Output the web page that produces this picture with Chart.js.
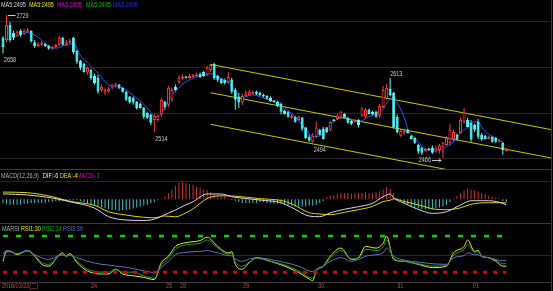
<!DOCTYPE html>
<html>
<head>
<meta charset="utf-8">
<script src="https://cdn.jsdelivr.net/npm/chart.js@4.4.1/dist/chart.umd.min.js"></script>
<style>
html, body { margin: 0; padding: 0; background: #000; }
#wrap { position: relative; width: 553px; height: 291px; background: #000; overflow: hidden; }
canvas { position: absolute; left: 0; }
</style>
</head>
<body>
<div id="wrap">
  <canvas id="main" width="553" height="170" style="top:0"></canvas>
  <canvas id="macd" width="553" height="53" style="top:170px"></canvas>
  <canvas id="rsi" width="553" height="68" style="top:223px"></canvas>
</div>
<script>
// 15-minute bars, 2016/03/22 .. 04/01
const open = [2687,2683,2711,2696,2690,2700,2694,2698,2700,2679,2672,2674,2676,2672,2667,2670,2674,2687,2674,2678,
  2687,2663,2645,2639,2623,2628,2617,2613,2591,2586,2588,2595,2599,2601,2595,2588,2579,2577,2569,2566,
  2558,2549,2546,2536,2536,2546,2569,2564,2573,2597,2606,2612,2615,2613,2615,2617,2621,2624,2619,2628,
  2639,2617,2612,2610,2606,2610,2591,2579,2568,2580,2582,2584,2588,2586,2582,2580,2577,2571,2569,2566,
  2553,2551,2540,2542,2536,2540,2522,2505,2496,2505,2518,2520,2522,2518,2536,2538,2542,2547,2540,2534,
  2533,2536,2544,2542,2555,2551,2551,2544,2560,2575,2593,2586,2542,2507,2511,2518,2507,2503,2490,2485,
  2479,2483,2485,2478,2481,2487,2490,2494,2500,2509,2512,2533,2536,2531,2527,2533,2509,2507,2501,2505,
  2503,2496,2494,2479];
const high = [2690,2729,2716,2700,2701,2703,2703,2705,2701,2683,2679,2681,2678,2674,2672,2676,2690,2689,2683,2685,
  2689,2665,2646,2641,2634,2630,2621,2619,2601,2595,2597,2602,2604,2602,2597,2590,2580,2579,2571,2568,
  2560,2551,2547,2547,2546,2577,2571,2599,2595,2601,2617,2619,2617,2621,2621,2623,2623,2626,2635,2639,
  2641,2619,2613,2612,2624,2613,2595,2586,2584,2590,2591,2590,2590,2588,2584,2582,2579,2573,2571,2568,
  2555,2553,2547,2544,2544,2542,2523,2509,2512,2533,2520,2523,2523,2534,2538,2547,2553,2549,2542,2536,
  2538,2538,2560,2558,2557,2553,2553,2566,2599,2602,2613,2588,2546,2520,2518,2520,2509,2505,2492,2487,
  2485,2485,2489,2489,2492,2496,2505,2529,2518,2511,2540,2558,2540,2536,2529,2538,2512,2509,2507,2507,
  2505,2500,2496,2485];
const low = [2658,2679,2679,2683,2689,2689,2692,2696,2678,2668,2670,2672,2670,2665,2665,2668,2672,2672,2672,2676,
  2657,2639,2628,2623,2619,2610,2601,2584,2588,2582,2586,2593,2597,2593,2586,2571,2566,2564,2555,2557,
  2538,2538,2527,2514,2533,2542,2555,2560,2569,2588,2602,2610,2612,2612,2613,2615,2613,2615,2617,2624,
  2610,2606,2602,2601,2602,2584,2555,2558,2564,2579,2580,2582,2582,2580,2577,2573,2569,2568,2560,2546,
  2546,2540,2538,2531,2534,2516,2501,2496,2494,2503,2507,2500,2512,2516,2533,2536,2540,2538,2529,2527,
  2531,2522,2542,2540,2546,2544,2540,2540,2558,2573,2579,2520,2511,2505,2509,2511,2500,2492,2474,2472,
  2478,2479,2474,2476,2474,2466,2489,2489,2496,2498,2511,2529,2522,2496,2514,2501,2498,2500,2500,2494,
  2494,2494,2472,2478];
const close = [2670,2711,2683,2687,2698,2692,2700,2701,2681,2672,2676,2678,2672,2667,2670,2674,2687,2674,2679,2681,
  2661,2643,2632,2624,2632,2613,2604,2588,2597,2591,2593,2601,2601,2595,2588,2573,2568,2568,2558,2558,
  2542,2540,2531,2544,2544,2573,2560,2595,2591,2591,2613,2615,2613,2617,2619,2619,2615,2617,2632,2637,
  2613,2610,2604,2604,2615,2588,2573,2568,2580,2586,2588,2586,2584,2582,2579,2575,2571,2569,2562,2551,
  2547,2542,2544,2533,2542,2520,2503,2498,2507,2522,2509,2501,2514,2533,2534,2544,2551,2540,2531,2529,
  2536,2527,2557,2555,2547,2546,2542,2562,2591,2595,2582,2523,2514,2516,2516,2512,2501,2494,2478,2476,
  2483,2481,2476,2485,2489,2494,2503,2518,2514,2500,2536,2551,2523,2500,2518,2505,2500,2501,2505,2496,
  2496,2498,2481,2483];

// moving average, read at these bars
const maIdx = [5,8,10,13,15,18,20,22,24,27,30,32,34,37,40,42,43,45,47,50,53,56,59,61,64,66,68,69,71,73,
  77,79,82,84,86,88,89,91,92,94,96,98,99,101,104,106,108,109,111,112,114,115,117,119,121,124,126,128,130,132,
  133,135,136,138,140,142];
const maVal = [2698,2695,2688,2671,2668,2674,2676,2655,2641,2622,2600,2597,2595,2581,2565,2550,2541,2548,2572,2596,
  2610,2617,2621,2615,2605,2588,2577,2579,2582,2579,2569,2563,2548,2535,2519,2506,2505,2512,2521,2533,
  2540,2540,2537,2533,2542,2549,2555,2567,2577,2568,2541,2520,2503,2488,2481,2481,2487,2496,2512,2523,
  2532,2533,2523,2510,2503,2495];

// trend channel (bar index, price)
const channelUpper = [[59, 2638], [156, 2518]];
const channelMiddle = [[59, 2586], [156, 2466]];
const channelLower = [[59, 2528], [156, 2408]];

// marked highs / lows
const markIdx = [1, 0, 43, 110, 88, 125];
const markKind = ['high', 'low', 'low', 'high', 'low', 'low'];
const markPlace = ['right', 'below', 'below', 'above', 'below', 'left'];

// MACD
const macdIdx = [0,7,14,19,26,30,35,40,43,46,49,52,54,58,62,65,73,79,82,87,90,93,97,101,105,108,110,111,114,119,
  122,126,130,133,138,141,143];
const dif = [6,4.8,1.4,-2.7,-9.7,-19.3,-23,-23.5,-22,-17,-11.9,-6,-2.7,5.9,5.9,2.9,-0.8,-3.8,-9,-18.6,
  -19.3,-15,-11.1,-8.2,-4.4,2.9,5.9,1.5,-4.4,-12.7,-15.6,-13.8,-6.3,-1.6,-1.6,-3.3,-6];
const dea = [8,7.3,2.9,-2.2,-6.7,-13.8,-17.5,-20,-20.5,-18.5,-19.4,-15,-10.7,0.9,3.9,3.7,0.7,-1.3,-5,-14.9,
  -16.3,-17,-14.5,-11.5,-7.9,-2.5,-1.1,0.5,-2.4,-7.2,-10.6,-11.5,-9.5,-5.5,-3.8,-3.8,-4];
const macdBar = [-4,-5,-6,-6,-6,-6,-5,-5,-4,-4,-4,-4,-4,-3,-3,-2,-2,-2,-2,-1,
  -1,-1,-2,-3,-5,-6,-7,-8,-9,-10,-11,-12,-12,-13,-12,-12,-11,-10,-9,-8,
  -7,-6,-4,-3,-1,1,3,7,11,15,18,19,18,17,16,14,13,11,10,8,
  6,5,4,3,1,-1,-2,-3,-4,-4,-4,-4,-4,-3,-3,-4,-4,-5,-5,-5,
  -6,-7,-7,-8,-8,-8,-8,-7,-7,-6,-4,-2,2,4,5,6,7,7,7,6,
  7,7,7,8,7,7,8,9,11,14,12,7,2,-2,-4,-6,-8,-9,-10,-11,
  -11,-11,-11,-10,-9,-8,-6,-3,1,4,7,10,12,11,10,9,7,6,4,3,
  2,1,-2,-3];

// RSI
const rsiIdx = [0,1,2,4,7,9,11,13,16,17,18,19,21,24,28,30,32,34,37,40,43,45,47,49,52,56,58,61,64,65,
  66,68,70,72,76,80,84,87,88,89,91,93,96,99,101,103,106,108,109,111,114,118,122,126,128,131,132,134,135,136,
  138,140,142,143];
const rsi1 = [38,55,55,49,56,46.5,33,30,49,52,46,51,36,22,17,17,25,17,14,11.4,7.6,36,46.5,62.7,69,72.5,78,62.7,52,54,
  33,25,36,44,38,30,19.5,8.7,6,22,30,46.5,60,41,44,62.7,60,68,80,41,38,33,27.6,30,52,62.7,73.5,54.6,56,46.5,
  44,38,30,30];
const rsi2 = [41,52,54,50,55,48,36,33,48,50,47,49,38.5,25,20,20,24,20,20,14,10,32,43,58.5,65.4,68,73.5,60,50,51,
  36.7,30,37,43,38,32,22,11.4,10,22,30,43,56,42,43,58,56,62,73.5,43,38,34,30,31,48,58,66,53,54,47,
  44,40,34,34];
const rsi3 = [50,56,55,51,56,49,44,41,47.6,48,47,47.6,44,38,33,32,30,29,26,22,19.5,28,38,49,53,54.6,55.7,52,47.6,47,
  42,38,42,44,41,36,30,22,21,25,30,38,44,38,41,46.5,49,52,60,46.5,40,36.7,34,33,44,47.6,52,49,49,46,
  44,41,39,39];
const rsiLevels = [80, 20];

// date axis
const dateTicks = [-0.3, 25, 46.3, 50.3, 68.2, 89.5, 112, 133.5];
const dateLabels = ['2016/03/22(二)', '24', '25', '28', '29', '30', '31', '01'];

const X_MIN = -0.85, X_MAX = 155.7;
const UP = '#ff3c3c', DOWN = '#54fcfc';
const FONT = '7px "Liberation Sans", "Noto Sans CJK SC", sans-serif';

const pts = (xs, ys) => xs.map((x, k) => ({ x: x, y: ys[k] }));
const seg = a => a.map(p => ({ x: p[0], y: p[1] }));
const bars = close.map((c, i) => i);
const isUp = bars.map(i => close[i] >= open[i]);
const last = a => a[a.length - 1];

// narrow text, like the terminal's small font
function text(ctx, s, x, y, align) {
  ctx.save();
  ctx.translate(x, y);
  ctx.scale(0.78, 1);
  ctx.textAlign = align || 'left';
  ctx.textBaseline = 'middle';
  ctx.fillText(s, 0, 0);
  ctx.restore();
}

// frame lines, panel labels, right border
const deco = {
  id: 'deco',
  beforeDatasetsDraw(chart, args, opts) {
    const ctx = chart.ctx;
    ctx.save();
    ctx.lineWidth = 1;
    (opts.rules || []).forEach(r => {
      ctx.strokeStyle = r.color;
      ctx.beginPath();
      ctx.moveTo(0, r.y + 0.5);
      ctx.lineTo(551, r.y + 0.5);
      ctx.stroke();
    });
    ctx.strokeStyle = '#3a3a3a';
    ctx.beginPath();
    ctx.moveTo(551.5, 0);
    ctx.lineTo(551.5, chart.height);
    ctx.stroke();
    ctx.restore();
  },
  afterDraw(chart, args, opts) {
    const ctx = chart.ctx;
    ctx.save();
    ctx.font = FONT;
    (opts.texts || []).forEach(t => {
      ctx.fillStyle = t[3];
      text(ctx, t[0], t[1], t[2]);
    });
    ctx.restore();
  }
};

// labels on the marked highs and lows
const marks = {
  id: 'marks',
  afterDatasetsDraw(chart) {
    if (chart.canvas.id !== 'main') return;
    const ctx = chart.ctx, xs = chart.scales.x, ys = chart.scales.y;
    ctx.save();
    ctx.font = FONT;
    ctx.fillStyle = '#c8c8c8';
    ctx.strokeStyle = '#c8c8c8';
    ctx.lineWidth = 1;
    markIdx.forEach((i, k) => {
      const v = markKind[k] === 'high' ? high[i] : low[i];
      const px = xs.getPixelForValue(i), py = ys.getPixelForValue(v);
      const txt = String(v);
      if (markPlace[k] === 'right') {
        ctx.beginPath();
        ctx.moveTo(px + 1.5, Math.round(py) + 0.5);
        ctx.lineTo(px + 9, Math.round(py) + 0.5);
        ctx.stroke();
        text(ctx, txt, px + 10, py + 1.5);
      } else if (markPlace[k] === 'below') {
        text(ctx, txt, px + 1, py + 7);
      } else if (markPlace[k] === 'above') {
        text(ctx, txt, px, py - 4);
      } else {
        const y = Math.round(py + 2) + 0.5;
        text(ctx, txt, px - 12, py + 2, 'right');
        ctx.beginPath();
        ctx.moveTo(px - 11, y);
        ctx.lineTo(px - 2, y);
        ctx.moveTo(px - 4, y - 2);
        ctx.lineTo(px - 2, y);
        ctx.lineTo(px - 4, y + 2);
        ctx.stroke();
      }
    });
    ctx.restore();
  }
};

// date labels under the RSI pane
const dates = {
  id: 'dates',
  afterDraw(chart) {
    if (chart.canvas.id !== 'rsi') return;
    const ctx = chart.ctx, xs = chart.scales.x;
    ctx.save();
    ctx.font = FONT;
    ctx.fillStyle = '#d04040';
    dateTicks.forEach((d, k) => {
      text(ctx, dateLabels[k], xs.getPixelForValue(d), 63);
    });
    ctx.restore();
  }
};

Chart.register(deco, marks, dates);

function baseOptions(pad, ymin, ymax, decoOpts) {
  return {
    responsive: false,
    animation: false,
    events: [],
    layout: { padding: pad },
    plugins: { legend: { display: false }, tooltip: { enabled: false }, deco: decoOpts },
    scales: {
      x: { type: 'linear', min: X_MIN, max: X_MAX, offset: false, display: false },
      y: { min: ymin, max: ymax, display: false }
    }
  };
}

const lineDs = (data, color, width, extra) => Object.assign({
  type: 'line', data: data, borderColor: color, borderWidth: width || 1,
  pointRadius: 0, fill: false, cubicInterpolationMode: 'monotone'
}, extra || {});

// main pane: candles, MA, channel
const maColors = ['#d8d8d8', '#e8e800', '#e000e0', '#00c000', '#2828ff'];
const maTexts = maColors.map((c, k) => ['MA5:' + last(maVal), [1, 29, 57, 86, 113][k], 5, c]);

new Chart(document.getElementById('main'), {
  type: 'bar',
  data: {
    datasets: [
      {
        type: 'bar', order: 0, grouped: false,
        data: bars.map(i => ({ x: i, y: [open[i], close[i]] })),
        backgroundColor: bars.map(i => isUp[i] ? '#000' : DOWN),
        borderColor: bars.map(i => isUp[i] ? UP : DOWN),
        borderWidth: 1, borderSkipped: false, barThickness: 3, minBarLength: 1.5, inflateAmount: 0
      },
      {
        type: 'bar', order: 3, grouped: false,
        data: bars.map(i => ({ x: i, y: [low[i], high[i]] })),
        backgroundColor: bars.map(i => isUp[i] ? UP : DOWN),
        borderWidth: 0, barThickness: 1, inflateAmount: 0
      },
      lineDs(pts(maIdx, maVal), '#3050ff', 1, { order: 1 }),
      lineDs(seg(channelUpper), '#c8c800', 1, { order: 2 }),
      lineDs(seg(channelMiddle), '#c8c800', 1, { order: 2 }),
      lineDs(seg(channelLower), '#c8c800', 1, { order: 2 })
    ]
  },
  options: baseOptions({ top: 10, bottom: 1, left: 0, right: 2 }, 2446, 2738, {
    rules: [{ y: 21, color: '#262626' }, { y: 67, color: '#262626' }, { y: 113, color: '#262626' },
      { y: 158, color: '#262626' }, { y: 169, color: '#3a3a3a' }],
    texts: maTexts
  })
});

// MACD pane
new Chart(document.getElementById('macd'), {
  type: 'bar',
  data: {
    datasets: [
      {
        type: 'bar', order: 2, grouped: false,
        data: bars.map(i => ({ x: i, y: macdBar[i] })),
        backgroundColor: bars.map(i => macdBar[i] >= 0 ? '#c83232' : '#3cc8c8'),
        barThickness: 1, inflateAmount: 0
      },
      lineDs(pts(macdIdx, dea), '#d8d800', 1, { order: 1 }),
      lineDs(pts(macdIdx, dif), '#e0d0e8', 1, { order: 0 })
    ]
  },
  options: baseOptions({ top: 11, bottom: 1, left: 0, right: 2 }, -25.2, 20.3, {
    rules: [{ y: 11, color: '#262626' }],
    texts: [
      ['MACD(12,26,9)', 1, 6, '#b0b0b0'],
      ['DIF:' + Math.round(last(dif)), 43, 6, '#f0f0f0'],
      ['DEA:' + Math.round(last(dea)), 60, 6, '#e8e800'],
      ['MACD:' + last(macdBar), 77, 6, '#e000e0']
    ]
  })
});

// RSI pane
new Chart(document.getElementById('rsi'), {
  type: 'line',
  data: {
    datasets: [
      lineDs([{ x: 0, y: rsiLevels[0] }, { x: 143, y: rsiLevels[0] }], '#00d800', 2.5, { borderDash: [5, 8], cubicInterpolationMode: 'default' }),
      lineDs([{ x: 0, y: rsiLevels[1] }, { x: 143, y: rsiLevels[1] }], '#e00000', 3, { borderDash: [4, 6], cubicInterpolationMode: 'default' }),
      lineDs(pts(rsiIdx, rsi3), '#6070c0'),
      lineDs(pts(rsiIdx, rsi2), '#20a020'),
      lineDs(pts(rsiIdx, rsi1), '#e8e840')
    ]
  },
  options: baseOptions({ top: 1, bottom: 8, left: 0, right: 2 }, 2, 100, {
    rules: [{ y: 0, color: '#3a3a3a' }, { y: 32, color: '#262626' }, { y: 59, color: '#3a3a3a' }],
    texts: [
      ['MARSI', 2, 6, '#b0b0b0'],
      ['RSI1:' + Math.round(last(rsi1)), 21, 6, '#e8e800'],
      ['RSI2:' + Math.round(last(rsi2)), 42, 6, '#00b000'],
      ['RSI3:' + Math.round(last(rsi3)), 63, 6, '#6070c0']
    ]
  })
});
</script>
</body>
</html>
